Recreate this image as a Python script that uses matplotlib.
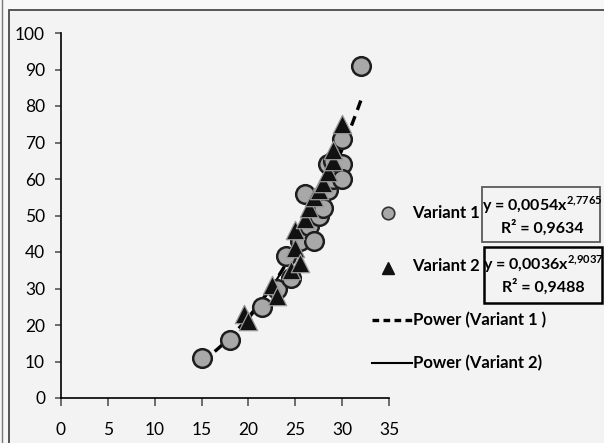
import matplotlib.pyplot as plt
import numpy as np
from matplotlib.patches import Rectangle

plt.rcParams["font.family"] = ["Lato", "DejaVu Sans"]
plt.rcParams["mathtext.fontset"] = "custom"
plt.rcParams["mathtext.rm"] = "Lato"
plt.rcParams["mathtext.bf"] = "Lato:bold"

# Variant 1 measurements (circles)
v1_x = [15, 18, 21.5, 23, 24, 24.5, 25.5, 26, 26.5, 27, 27.5, 28, 28.5, 28.5, 29, 29, 30, 30, 30, 32]
v1_y = [11, 16, 25, 30, 39, 33, 43, 56, 47, 43, 50, 52, 57, 64, 60, 65, 71, 64, 60, 91]

# Variant 2 measurements (triangles)
v2_x = [19.5, 20, 22.5, 23, 24.5, 25, 25.5, 25, 26, 26.5, 27, 27.5, 28, 28.5, 29, 29, 30]
v2_y = [23, 21, 31, 28, 35, 41, 37, 46, 49, 52, 55, 57, 59, 62, 65, 68, 75]

# Power trendlines y = a * x^b
v1_fit = (0.0054, 2.7765, 0.9634)
v2_fit = (0.0036, 2.9037, 0.9488)

x_ticks = [0, 5, 10, 15, 20, 25, 30, 35]
y_ticks = [0, 10, 20, 30, 40, 50, 60, 70, 80, 90, 100]

W, H = 604, 443
fig = plt.figure(figsize=(W / 100, H / 100), dpi=100, facecolor="#f7f7f7")

# full-figure overlay in pixel units for the frame and legend
over = fig.add_axes([0, 0, 1, 1])
over.set_xlim(0, W)
over.set_ylim(H, 0)
over.axis("off")
over.add_patch(Rectangle((9, 10), W, H, facecolor="#f3f3f3", edgecolor="#4a4a4a", lw=1.3))
over.plot([2, 2], [0, H], color="#777777", lw=1)

ax = fig.add_axes([61 / W, 1 - 398 / H, (389 - 61) / W, (398 - 33) / H])
ax.set_zorder(2)
ax.patch.set_alpha(0)

xa = np.linspace(min(v1_x), max(v1_x), 100)
ax.plot(xa, v1_fit[0] * xa ** v1_fit[1], color="black", lw=2.4, ls=(0, (3, 2)), zorder=3)
xb = np.linspace(min(v2_x), max(v2_x), 100)
ax.plot(xb, v2_fit[0] * xb ** v2_fit[1], color="black", lw=1.5, zorder=3)

ax.scatter(v1_x, v1_y, s=180, marker="o", facecolor="#a8a8a8", edgecolor="#1e1e1e", lw=1.8, zorder=4)
ax.scatter(v2_x, v2_y, s=175, marker="^", facecolor="#111111", edgecolor="#9a9a9a", lw=0.9, zorder=5)

ax.set_xlim(0, 35)
ax.set_ylim(0, 100)
ax.set_xticks(x_ticks)
ax.set_yticks(y_ticks)
for side in ("top", "right"):
    ax.spines[side].set_visible(False)
for side in ("left", "bottom"):
    ax.spines[side].set_color("black")
    ax.spines[side].set_linewidth(1.2)
ax.tick_params(axis="x", direction="out", length=6, width=1.2, color="#555555", pad=11, labelsize=12.5)
ax.tick_params(axis="y", direction="out", length=4.5, width=1.2, color="#555555", pad=7, labelsize=12.5)

# legend entries
fs = 12
over.plot([388], [213], marker="o", ms=9, mfc="#a8a8a8", mec="#333333", mew=1.2)
over.text(412, 213, "Variant 1", fontsize=fs, fontweight="bold", va="center", ha="left")
over.plot([388], [268], marker="^", ms=9, mfc="#111111", mec="#111111")
over.text(412, 266, "Variant 2", fontsize=fs, fontweight="bold", va="center", ha="left")
over.plot([372, 412], [320, 320], color="black", lw=2.4, ls=(0, (2, 1.3)))
over.text(413, 320, "Power (Variant 1 )", fontsize=fs, fontweight="bold", va="center", ha="left")
over.plot([372, 412], [363, 363], color="black", lw=1.5)
over.text(413, 363, "Power (Variant 2)", fontsize=fs, fontweight="bold", va="center", ha="left")


def fmt(v, nd):
    return f"{v:.{nd}f}".replace(".", ",")


# trendline equation boxes
over.add_patch(Rectangle((482, 187), 118, 55, facecolor="none", edgecolor="#5a5a5a", lw=1.3))
over.text(542, 205, f"y = {fmt(v1_fit[0], 4)}x" + r"$^{\mathbf{" + fmt(v1_fit[1], 4).replace(",", "{,}") + "}}$",
          fontsize=fs - 0.5, fontweight="bold", ha="center", va="center")
over.text(542, 228, f"R² = {fmt(v1_fit[2], 4)}", fontsize=fs - 0.5, fontweight="bold", ha="center", va="center")

over.add_patch(Rectangle((484, 247), 118, 56, facecolor="none", edgecolor="black", lw=1.8))
over.text(543, 264, f"y = {fmt(v2_fit[0], 4)}x" + r"$^{\mathbf{" + fmt(v2_fit[1], 4).replace(",", "{,}") + "}}$",
          fontsize=fs - 0.5, fontweight="bold", ha="center", va="center")
over.text(543, 287, f"R² = {fmt(v2_fit[2], 4)}", fontsize=fs - 0.5, fontweight="bold", ha="center", va="center")

fig.savefig("out.png", dpi=100, facecolor=fig.get_facecolor())
